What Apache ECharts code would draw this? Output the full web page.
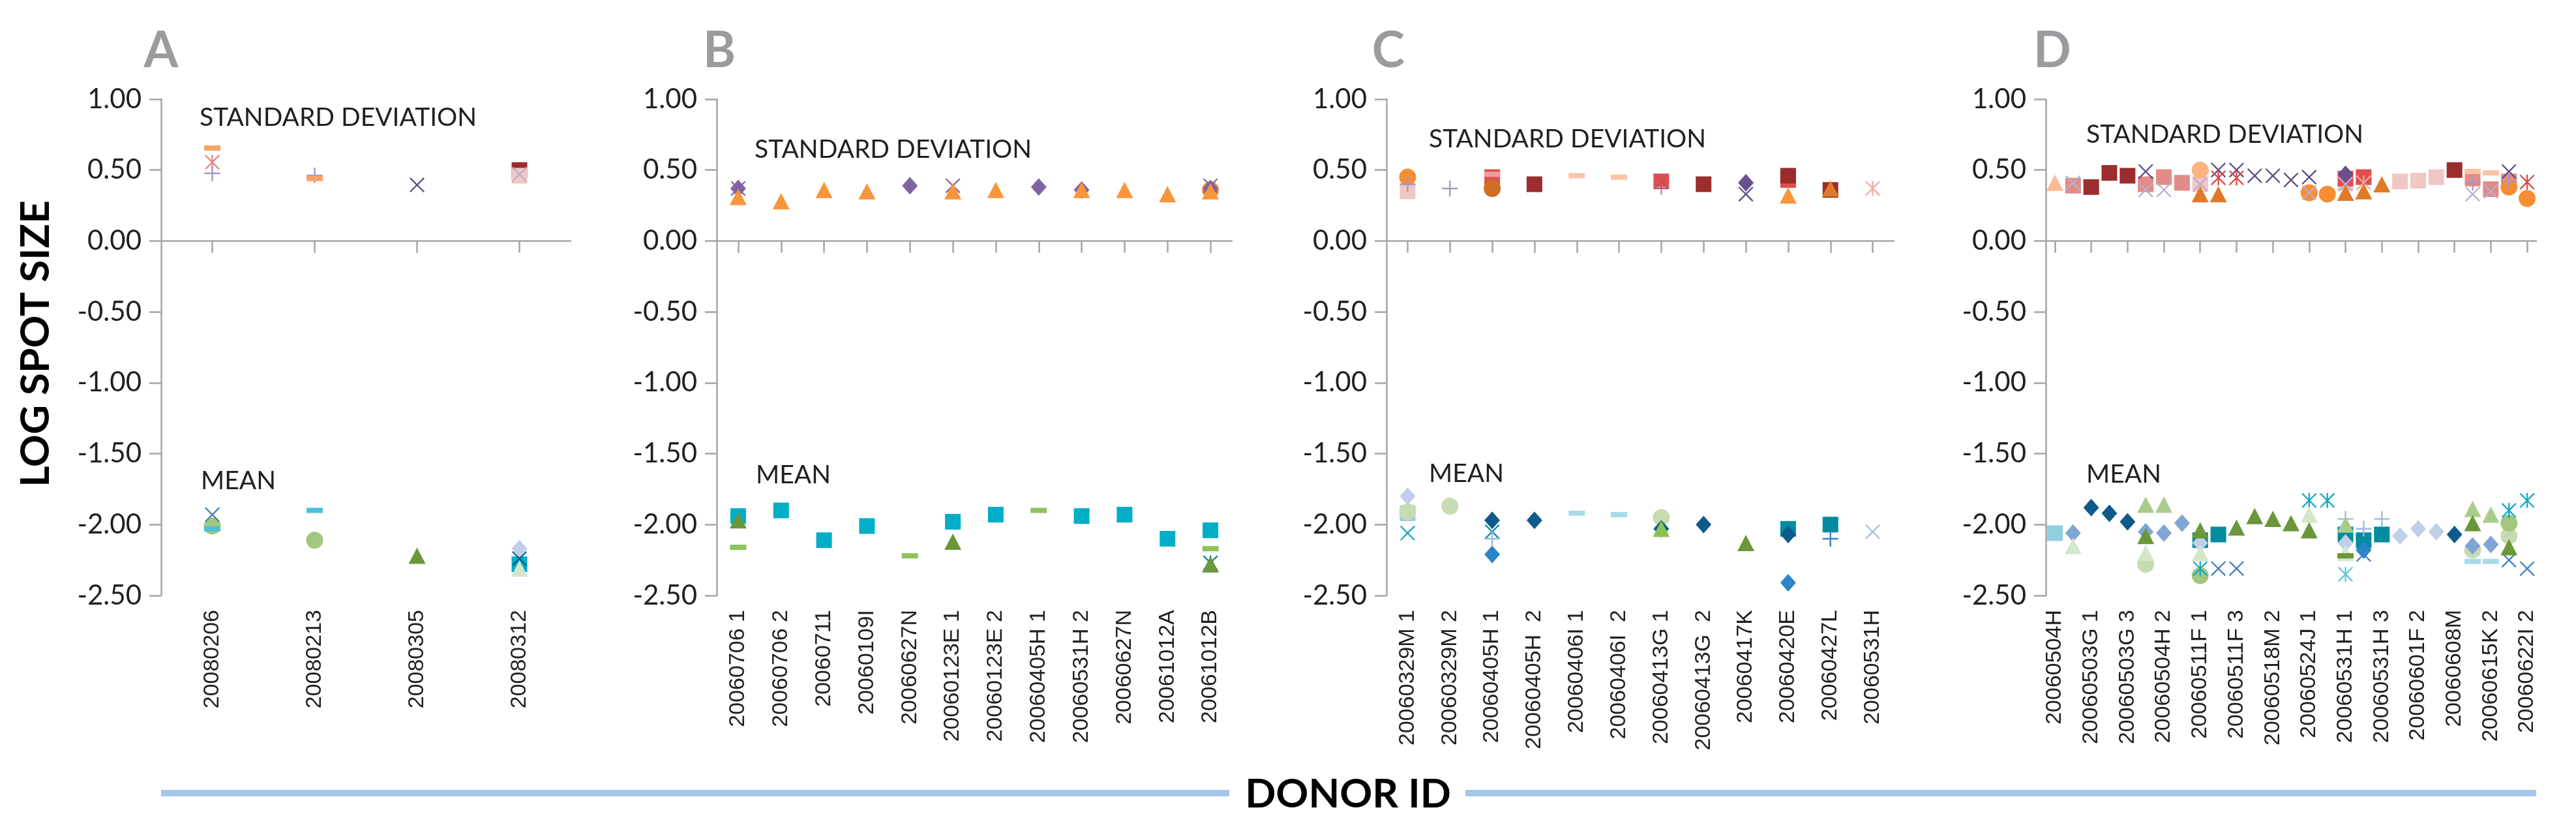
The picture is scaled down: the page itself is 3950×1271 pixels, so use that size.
<!DOCTYPE html>
<html><head><meta charset="utf-8">
<script src="https://cdn.jsdelivr.net/npm/echarts@6/dist/echarts.min.js"></script>
<style>html,body{margin:0;padding:0;background:#fff}#c{width:3950px;height:1271px}</style>
</head><body><div id="c"></div>
<script>
// ---------------- DATA ----------------
const yTicks = { min: -2.5, max: 1, step: 0.5 };

const catsA = ['20080206','20080213','20080305','20080312'];
const catsB = ['20060706 1','20060706 2','20060711','20060109I','20060627N','20060123E 1','20060123E 2','20060405H 1','20060531H 2','20060627N','20061012A','20061012B'];
const catsC = ['20060329M 1','20060329M 2','20060405H 1','20060405H  2','20060406I 1','20060406I  2','20060413G 1','20060413G  2','20060417K','20060420E','20060427L','20060531H'];
const catsD = ['20060504H','20060502F','20060503G 1','20060503G 2','20060503G 3','20060504H 1','20060504H 2','20060509N','20060511F 1','20060511F 2','20060511F 3','20060518M 1','20060518M 2','20060518M 3','20060524J 1','20060524J 2','20060531H 1','20060531H 2','20060531H 3','20060601F 1','20060601F 2','20060601F 3','20060608M','20060615K 1','20060615K 2','20060622I 1','20060622I 2'];

// [series, category index, log spot size]
const sdA = [
  ['dashOrange',0,0.655],['astSalmon',0,0.555],['plusLightPurple',0,0.477],
  ['plusLightPurple',1,0.462],['dashOrange',1,0.44],
  ['xDarkPurple',2,0.395],
  ['sqDarkRed',3,0.50],['sqLightPink',3,0.46],['xLightPurple',3,0.47]
];
const meanA = [
  ['xBlue',0,-1.93],['circGreen',0,-2.01],['dashCyan',0,-2.03],
  ['dashCyan',1,-1.90],['circGreen',1,-2.11],
  ['triDarkGreen',2,-2.22],
  ['diaPaleBlue',3,-2.17],['sqCyan',3,-2.28],['xDarkBlue',3,-2.24],['triPaleGreen',3,-2.31]
];
const sdB = [
  ['astPurple',0,0.37],['diaPurple',0,0.37],['triOrange',0,0.31],
  ['triOrange',1,0.28],
  ['triOrange',2,0.36],
  ['triOrange',3,0.35],
  ['diaPurple',4,0.39],
  ['xPurple',5,0.39],['triOrange',5,0.35],
  ['triOrange',6,0.36],
  ['diaPurple',7,0.38],
  ['diaPurple',8,0.36],['triOrange',8,0.36],
  ['triOrange',9,0.36],
  ['triOrange',10,0.33],
  ['xPurple',11,0.39],['diaPurple',11,0.37],['circOrange',11,0.36],['triOrange',11,0.35]
];
const meanB = [
  ['triDarkGreen',0,-1.97],['sqCyan',0,-1.94],['dashGreen',0,-2.16],
  ['sqCyan',1,-1.90],
  ['sqCyan',2,-2.11],
  ['sqCyan',3,-2.01],
  ['dashGreen',4,-2.22],
  ['sqCyan',5,-1.98],['triDarkGreen',5,-2.12],
  ['sqCyan',6,-1.93],
  ['dashGreen',7,-1.90],
  ['sqCyan',8,-1.94],
  ['sqCyan',9,-1.93],
  ['sqCyan',10,-2.10],
  ['sqCyan',11,-2.04],['dashGreen',11,-2.17],['triDarkGreen',11,-2.28],['astTeal',11,-2.27]
];
const sdC = [
  ['circOrange',0,0.45],['sqLightPink',0,0.35],['plusLightPurple',0,0.40],
  ['plusLightPurple',1,0.37],
  ['sqRed',2,0.45],['circDarkOrange',2,0.37],['dashPink',2,0.47],
  ['sqDarkRed',3,0.40],
  ['dashPeach',4,0.46],
  ['dashPeach',5,0.45],
  ['sqRed',6,0.42],['xPurple',6,0.42],['astRed',6,0.42],['plusLightPurple',6,0.38],
  ['sqDarkRed',7,0.40],
  ['diaDarkPurple',8,0.41],['xDarkPurple',8,0.33],
  ['sqDarkRed',9,0.46],['sqRed',9,0.43],['triOrange',9,0.32],
  ['sqDarkRed',10,0.36],['triDarkOrange',10,0.37],
  ['astPink',11,0.37]
];
const meanC = [
  ['sqLightBlue',0,-1.92],['circPaleGreen',0,-1.91],['diaPaleBlue',0,-1.80],['xCyan',0,-2.06],
  ['circPaleGreen',1,-1.87],
  ['diaDarkBlue',2,-1.97],['xTeal',2,-2.05],['plusLightBlue',2,-2.10],['diaBlue',2,-2.21],
  ['diaDarkBlue',3,-1.97],
  ['dashLightCyan',4,-1.92],
  ['dashLightCyan',5,-1.93],
  ['circPaleGreen',6,-1.95],['diaDarkBlue',6,-2.03],['triGreen',6,-2.03],
  ['diaDarkBlue',7,-2.00],
  ['triDarkGreen',8,-2.13],
  ['sqTeal',9,-2.03],['diaDarkBlue',9,-2.07],['diaBlue',9,-2.41],
  ['sqTeal',10,-2.00],['plusBlue',10,-2.10],
  ['xPaleBlue',11,-2.05]
];
const sdD = [
  ['triLightOrange',0,0.41],
  ['sqPink',1,0.39],['xLightPurple',1,0.41],
  ['sqDarkRed',2,0.38],
  ['sqDarkRed',3,0.48],
  ['sqDarkRed',4,0.46],
  ['xDarkPurple',5,0.49],['sqPink',5,0.40],['xLightPurple',5,0.36],
  ['sqPink',6,0.45],['xLightPurple',6,0.36],
  ['sqPink',7,0.41],
  ['circLightOrange',8,0.50],['sqLightPink',8,0.40],['xLightPurple',8,0.40],['triDarkOrange',8,0.33],
  ['xDarkPurple',9,0.50],['astRed',9,0.445],['triDarkOrange',9,0.33],
  ['xDarkPurple',10,0.50],['astRed',10,0.445],
  ['xDarkPurple',11,0.46],
  ['xDarkPurple',12,0.46],
  ['xDarkPurple',13,0.43],
  ['xDarkPurple',14,0.45],['circOrange',14,0.34],['xLightPurple',14,0.34],
  ['circOrange',15,0.33],
  ['diaDarkPurple',16,0.47],['sqRed',16,0.44],['sqLightPink',16,0.41],['xLightPurple',16,0.40],['triDarkOrange',16,0.34],
  ['sqRed',17,0.45],['astPink',17,0.41],['triDarkOrange',17,0.35],
  ['triDarkOrange',18,0.40],
  ['sqLightPink',19,0.42],
  ['sqLightPink',20,0.425],
  ['sqLightPink',21,0.45],
  ['sqDarkRed',22,0.50],
  ['dashPeach',23,0.49],['sqPink',23,0.44],['plusLightPurple',23,0.41],['xLightPurple',23,0.33],
  ['dashPeach',24,0.48],['sqPink',24,0.365],['xLightPurple',24,0.35],
  ['xDarkPurple',25,0.49],['sqPink',25,0.42],['plusLightPurple',25,0.42],['circOrange',25,0.38],
  ['astRed',26,0.415],['circOrange',26,0.30]
];
const meanD = [
  ['sqLightBlue',0,-2.06],
  ['diaLightBlue',1,-2.06],['triPaleGreen',1,-2.15],
  ['diaDarkBlue',2,-1.88],
  ['diaDarkBlue',3,-1.92],
  ['diaDarkBlue',4,-1.98],
  ['triLightGreen',5,-1.86],['triDarkGreen',5,-2.08],['diaLightBlue',5,-2.05],['triPaleGreen',5,-2.20],['circPaleGreen',5,-2.28],
  ['triLightGreen',6,-1.86],['diaLightBlue',6,-2.06],
  ['diaLightBlue',7,-1.99],
  ['triDarkGreen',8,-2.04],['sqTeal',8,-2.11],['diaPaleBlue',8,-2.13],['triPaleGreen',8,-2.20],['astCyan',8,-2.31],['circGreen',8,-2.36],
  ['sqTeal',9,-2.07],['xBlue',9,-2.31],
  ['triDarkGreen',10,-2.02],['xBlue',10,-2.31],
  ['triDarkGreen',11,-1.94],
  ['triDarkGreen',12,-1.96],
  ['triDarkGreen',13,-1.99],
  ['astCyan',14,-1.83],['triPaleGreen',14,-1.93],['triDarkGreen',14,-2.04],
  ['astCyan',15,-1.83],
  ['plusLightBlue',16,-1.96],['triLightGreen',16,-2.00],['sqTeal',16,-2.07],['diaPaleBlue',16,-2.13],['triPaleGreen',16,-2.20],['dashDarkGreen',16,-2.22],['astLightCyan',16,-2.35],
  ['plusLightBlue',17,-2.03],['sqTeal',17,-2.11],['diaBlue',17,-2.18],['xBlue',17,-2.21],
  ['plusLightBlue',18,-1.96],['sqTeal',18,-2.07],
  ['diaPaleBlue',19,-2.08],
  ['diaPaleBlue',20,-2.03],
  ['diaPaleBlue',21,-2.05],
  ['diaDarkBlue',22,-2.07],
  ['triLightGreen',23,-1.89],['triDarkGreen',23,-1.99],['diaLightBlue',23,-2.15],['circPaleGreen',23,-2.18],['dashLightCyan',23,-2.26],
  ['triLightGreen',24,-1.93],['diaLightBlue',24,-2.14],['dashLightCyan',24,-2.26],
  ['astCyan',25,-1.90],['circGreen',25,-1.99],['circPaleGreen',25,-2.08],['triDarkGreen',25,-2.16],['xBlue',25,-2.25],
  ['astCyan',26,-1.83],['xBlue',26,-2.31]
];

const panelLetters = ['A','B','C','D'];
const sdLabel = 'STANDARD DEVIATION';
const meanLabel = 'MEAN';
const yTitle = 'LOG SPOT SIZE';
const xTitle = 'DONOR ID';

// ---------------- STYLES ----------------
const X = 'path://M0,0.7L0.7,0L10,9.3L9.3,10Z M9.3,0L10,0.7L0.7,10L0,9.3Z';
const PLUS = 'path://M0,4.5H10V5.5H0Z M4.5,0H5.5V10H4.5Z';
const AST = 'path://M0,0.7L0.7,0L10,9.3L9.3,10Z M9.3,0L10,0.7L0.7,10L0,9.3Z M4.5,0H5.5V10H4.5Z';
const SHAPES = {
  rect:{symbol:'rect', size:24, order:0},
  circle:{symbol:'circle', size:26, order:1},
  diamond:{symbol:'diamond', size:[24,27], order:2},
  x:{symbol:X, size:23, order:3},
  plus:{symbol:PLUS, size:24, order:3},
  ast:{symbol:AST, size:23, order:3},
  triangle:{symbol:'triangle', size:[26,25], order:4},
  dash:{symbol:'rect', size:[25,8], order:5}
};
const STYLE = {
  sqDarkRed:['rect','#9b2d2e'], sqRed:['rect','#e04f4c'], sqPink:['rect','#e38b87'], sqLightPink:['rect','#f0c7c4'],
  circOrange:['circle','#f78d33'], circLightOrange:['circle','#fbb480'], circDarkOrange:['circle','#cf6f22'],
  triOrange:['triangle','#f7963b'], triDarkOrange:['triangle','#e07a26'], triLightOrange:['triangle','#fbb995'],
  diaPurple:['diamond','#8064a2'], diaDarkPurple:['diamond','#6a4f8e'],
  xPurple:['x','#8064a2'], xDarkPurple:['x','#5f4b85'], xLightPurple:['x','#b8add3'],
  plusLightPurple:['plus','#a497c7'],
  astPurple:['ast','#8064a2'], astSalmon:['ast','#e8837c'], astRed:['ast','#d94a47'], astPink:['ast','#efaaa6'],
  dashOrange:['dash','#f9a266'], dashPeach:['dash','#fcc4a5'], dashPink:['dash','#ee9f9b'],
  sqCyan:['rect','#00aec7'], sqTeal:['rect','#008c9e'], sqLightBlue:['rect','#8fcfe1'],
  circGreen:['circle','#a3c67e'], circPaleGreen:['circle','#c6dbb1'],
  triDarkGreen:['triangle','#6a973a'], triLightGreen:['triangle','#a9cc8b'], triPaleGreen:['triangle','#d6e6c9'], triGreen:['triangle','#8cc152'],
  diaDarkBlue:['diamond','#0f5a8c'], diaBlue:['diamond','#2a84c9'], diaLightBlue:['diamond','#7fa6d4'], diaPaleBlue:['diamond','#bfcfe8'],
  xBlue:['x','#3f7fc4'], xCyan:['x','#10a9c4'], xTeal:['x','#008c9e'], xPaleBlue:['x','#a9bee0'], xDarkBlue:['x','#0f5a8c'],
  astCyan:['ast','#13a9c2'], astLightCyan:['ast','#5bc7da'], astTeal:['ast','#00808f'],
  plusBlue:['plus','#3f7fc4'], plusLightBlue:['plus','#9fb9df'],
  dashCyan:['dash','#4dbfd9'], dashLightCyan:['dash','#a6dbe8'], dashGreen:['dash','#8fc25a'], dashDarkGreen:['dash','#6a973a']
};

const AX = '#a3a5a8';
const TXT = '#231f20';
const panels = [
  {cats:catsA, pts:[sdA, meanA], left:247,  width:628, interval:0, letterX:247,  sdPos:[306,180],  meanPos:[308,737]},
  {cats:catsB, pts:[sdB, meanB], left:1099, width:790, interval:0, letterX:1103, sdPos:[1157,229], meanPos:[1159,728]},
  {cats:catsC, pts:[sdC, meanC], left:2126, width:778, interval:0, letterX:2129, sdPos:[2191,213], meanPos:[2191,726]},
  {cats:catsD, pts:[sdD, meanD], left:3137, width:752, interval:1, letterX:3147, sdPos:[3199,206], meanPos:[3199,727]}
];
const TOP = 152, HEIGHT = 761;

const grids = [], xAxes = [], yAxes = [], series = [], graphics = [];
panels.forEach((p, i) => {
  grids.push({left:p.left, top:TOP, width:p.width, height:HEIGHT});
  xAxes.push({
    type:'category', gridIndex:i, data:p.cats, boundaryGap:true,
    axisLine:{show:true, lineStyle:{color:AX, width:2.5}},
    axisTick:{show:true, alignWithLabel:true, length:18, interval:p.interval, lineStyle:{color:AX, width:2.5}},
    axisLabel:{rotate:90, interval:p.interval, margin:22, fontFamily:'Liberation Sans', fontSize:34, color:TXT},
    splitLine:{show:false}
  });
  yAxes.push({
    type:'value', gridIndex:i, min:yTicks.min, max:yTicks.max, interval:yTicks.step,
    axisLine:{show:true, lineStyle:{color:AX, width:2.5}},
    axisTick:{show:true, length:18, lineStyle:{color:AX, width:2.5}},
    axisLabel:{formatter:v => v.toFixed(2), margin:30, fontFamily:'Lato', fontSize:42, color:TXT},
    splitLine:{show:false}
  });
  const groups = {};
  const keyOrder = [];
  p.pts.forEach(list => list.forEach(r => {
    if (!groups[r[0]]) { groups[r[0]] = []; keyOrder.push(r[0]); }
    groups[r[0]].push([r[1], r[2]]);
  }));
  keyOrder.forEach(k => {
    const st = STYLE[k]; const sh = SHAPES[st[0]];
    series.push({
      type:'scatter', name:k, xAxisIndex:i, yAxisIndex:i, data:groups[k],
      symbol:sh.symbol, symbolSize:sh.size, z:2 + sh.order,
      itemStyle:{color:st[1], opacity:1}, silent:true
    });
  });
  graphics.push({type:'text', x:p.letterX, y:78, style:{text:panelLetters[i], font:'bold 76px Lato', fill:'#9a9b9e', textAlign:'center', verticalAlign:'middle'}});
  graphics.push({type:'text', x:p.sdPos[0], y:p.sdPos[1], style:{text:sdLabel, font:'39px Lato', fill:TXT, textAlign:'left', verticalAlign:'middle'}});
  graphics.push({type:'text', x:p.meanPos[0], y:p.meanPos[1], style:{text:meanLabel, font:'39px Lato', fill:TXT, textAlign:'left', verticalAlign:'middle'}});
});
graphics.push({type:'text', x:55, y:527, rotation:Math.PI/2, style:{text:yTitle, font:'bold 62px Lato', fill:'#000', textAlign:'center', verticalAlign:'middle'}});
graphics.push({type:'line', shape:{x1:247, y1:1216, x2:1885, y2:1216}, style:{stroke:'#a4c7e8', lineWidth:10}});
graphics.push({type:'line', shape:{x1:2247, y1:1216, x2:3889, y2:1216}, style:{stroke:'#a4c7e8', lineWidth:10}});
graphics.push({type:'text', x:2067, y:1218, style:{text:xTitle, font:'bold 62px Lato', fill:'#000', textAlign:'center', verticalAlign:'middle'}});

const chart = echarts.init(document.getElementById('c'), null, {renderer:'canvas'});
chart.setOption({
  animation:false, backgroundColor:'#fff',
  grid:grids, xAxis:xAxes, yAxis:yAxes, series:series, graphic:graphics
});
</script></body></html>
